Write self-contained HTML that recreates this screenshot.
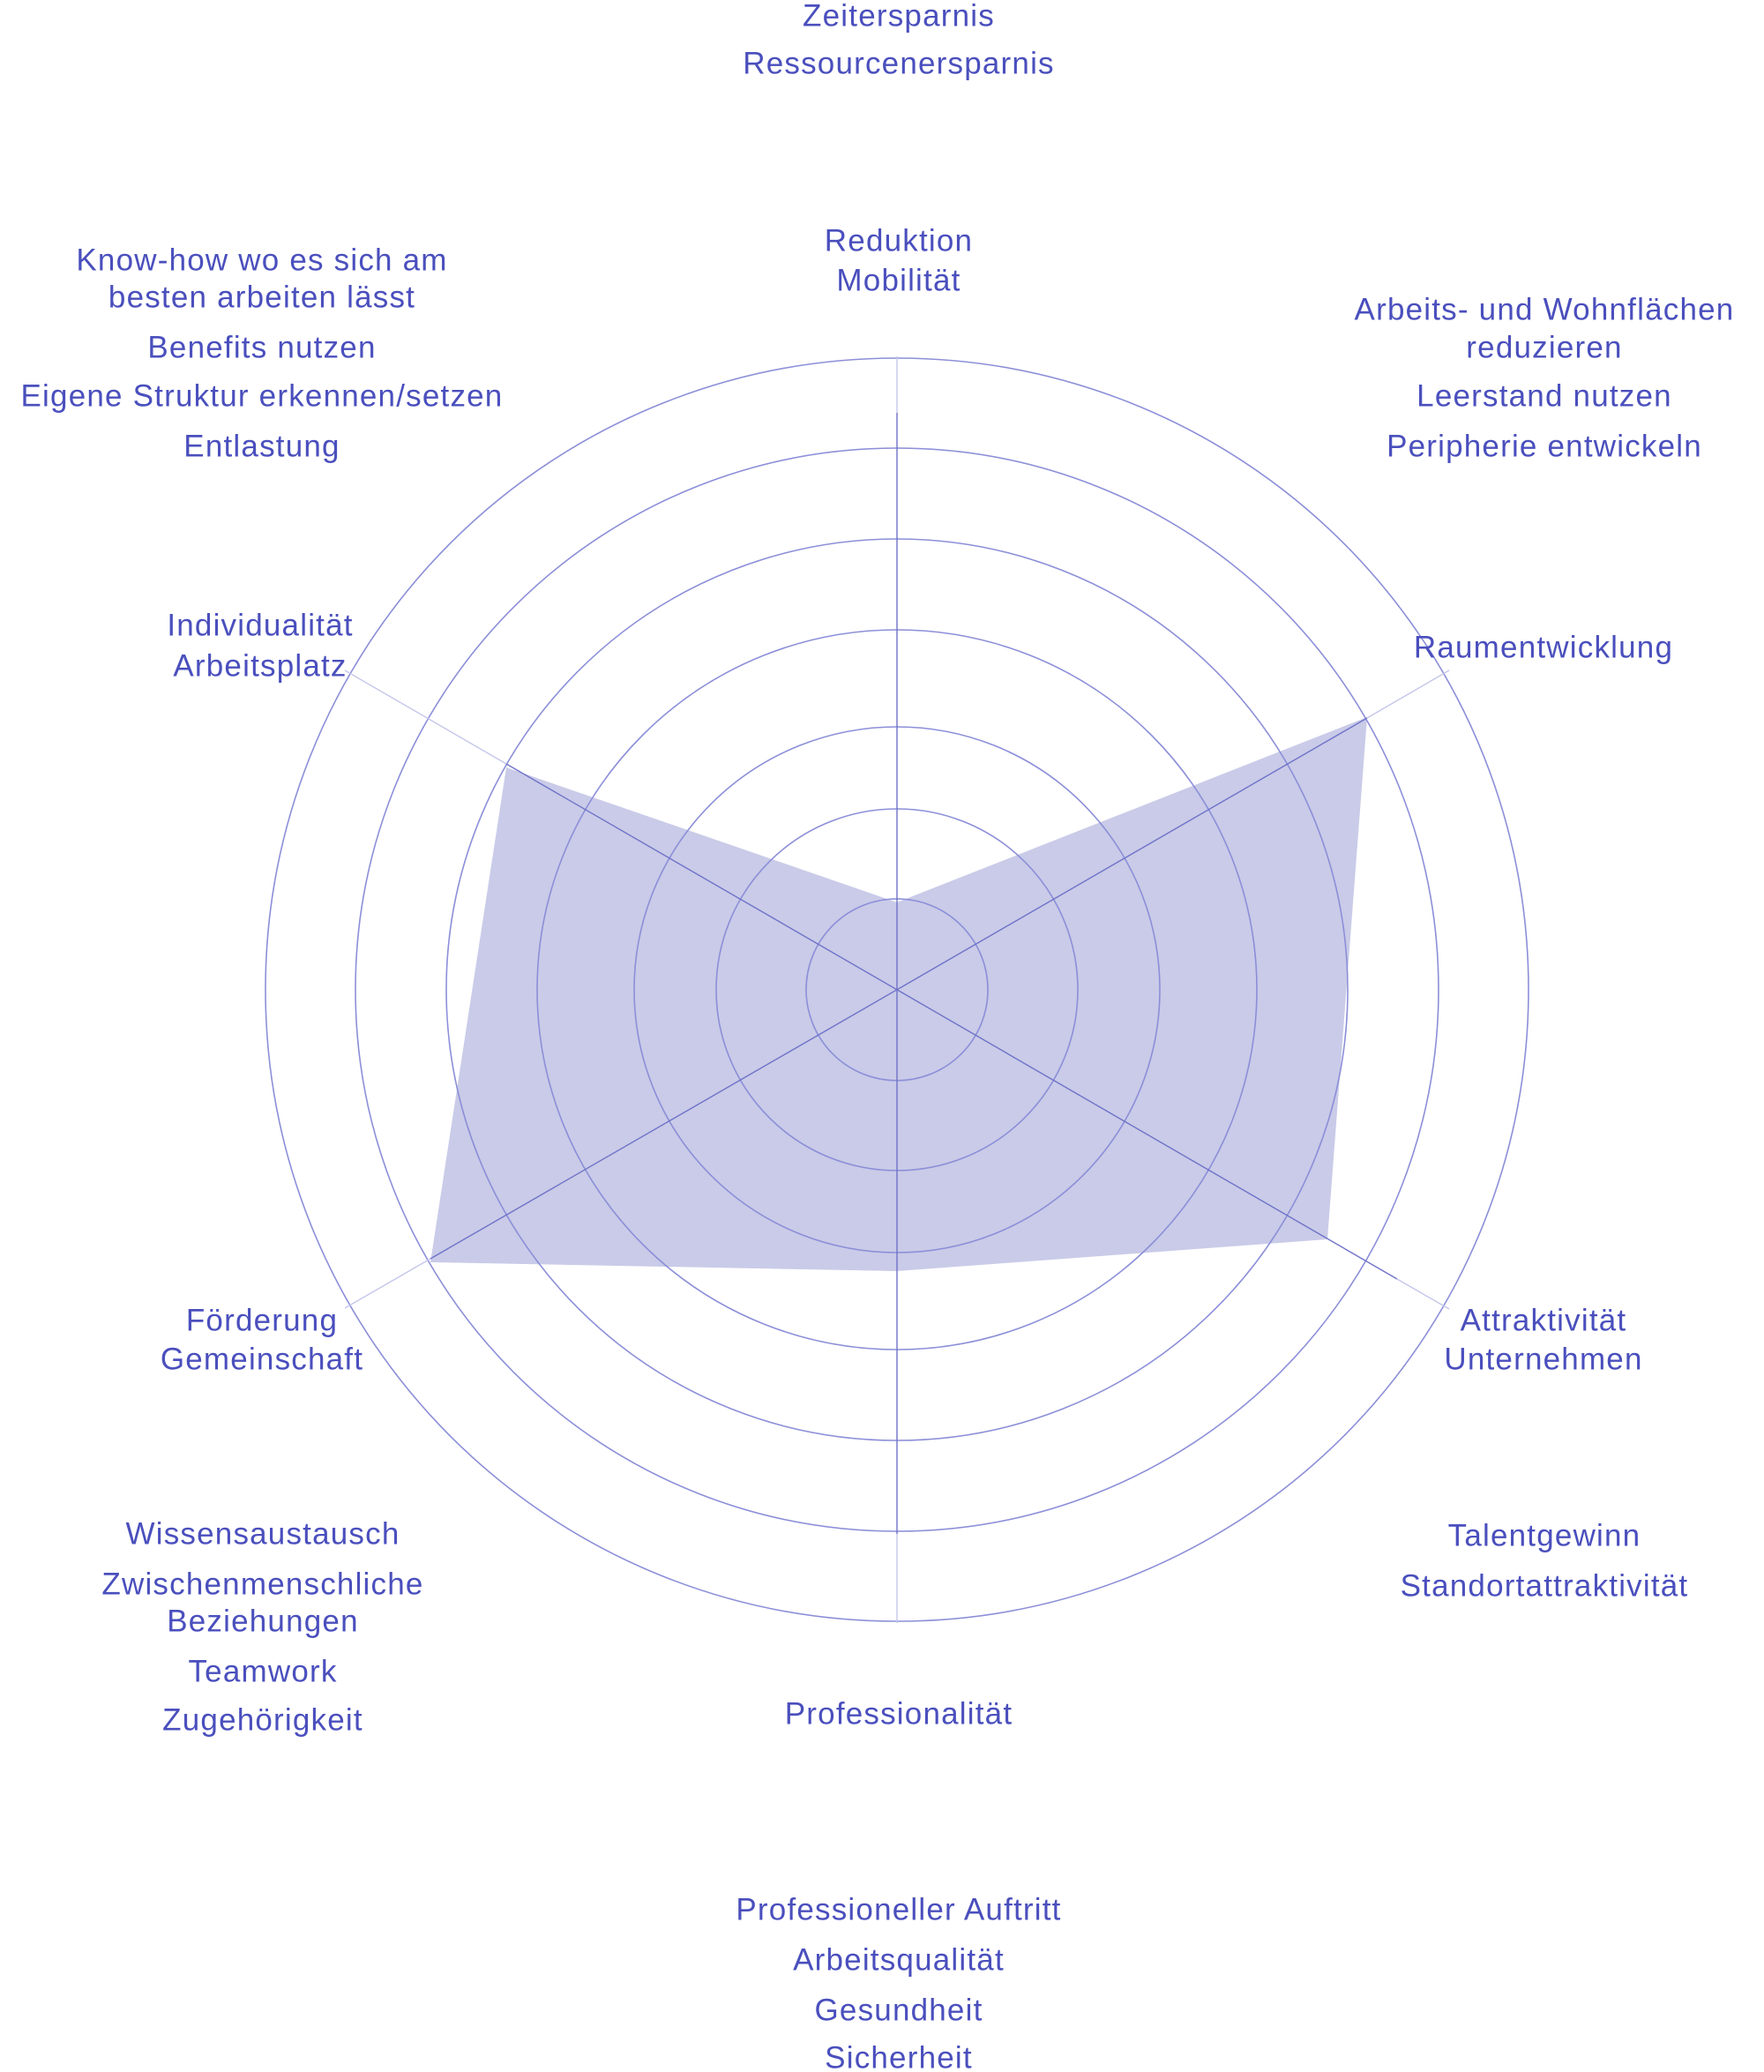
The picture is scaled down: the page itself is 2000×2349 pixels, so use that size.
<!DOCTYPE html>
<html><head><meta charset="utf-8"><style>
html,body{margin:0;padding:0;background:#fff;}
svg{display:block;}
text{font-family:"Liberation Sans",sans-serif;font-size:35px;letter-spacing:1.2px;fill:#4a4fbd;text-anchor:middle;dominant-baseline:central;}
</style></head><body>
<svg width="2000" height="2349" viewBox="0 0 2000 2349" xmlns="http://www.w3.org/2000/svg">
<polygon points="1017,1023 1550,813 1505,1405 1017,1441 488,1431 574,870" fill="#c9cbe8"/>
<g fill="none" stroke="#8c8fd8" stroke-width="1.6">
<circle cx="1017" cy="1122" r="103"/>
<circle cx="1017" cy="1122" r="205"/>
<circle cx="1017" cy="1122" r="298"/>
<circle cx="1017" cy="1122" r="408"/>
<circle cx="1017" cy="1122" r="511"/>
<circle cx="1017" cy="1122" r="614"/>
<circle cx="1017" cy="1122" r="716"/>
</g>
<g stroke="#6f72c8" stroke-width="1.4">
<line x1="1017" y1="1122" x2="1017" y2="468"/>
<line x1="1017" y1="1122" x2="1017" y2="1739"/>
<line x1="1017" y1="1122" x2="1550" y2="814"/>
<line x1="1017" y1="1122" x2="1584" y2="1450"/>
<line x1="1017" y1="1122" x2="488" y2="1427"/>
<line x1="1017" y1="1122" x2="574" y2="866"/>
</g>
<g stroke="#c5c7ea" stroke-width="1.4">
<line x1="1017" y1="468" x2="1017" y2="404"/>
<line x1="1017" y1="1739" x2="1017" y2="1840"/>
<line x1="1550" y1="814" x2="1643" y2="760"/>
<line x1="1584" y1="1450" x2="1643" y2="1484"/>
<line x1="488" y1="1427" x2="391" y2="1483"/>
<line x1="574" y1="866" x2="391" y2="760"/>
</g>
<text x="1019" y="18">Zeitersparnis</text>
<text x="1019" y="72">Ressourcenersparnis</text>
<text x="1019" y="273">Reduktion</text>
<text x="1019" y="318">Mobilität</text>
<text x="1751" y="351">Arbeits- und Wohnflächen</text>
<text x="1751" y="394">reduzieren</text>
<text x="1751" y="449">Leerstand nutzen</text>
<text x="1751" y="506">Peripherie entwickeln</text>
<text x="1750" y="734">Raumentwicklung</text>
<text x="1750" y="1497">Attraktivität</text>
<text x="1750" y="1541">Unternehmen</text>
<text x="1751" y="1741">Talentgewinn</text>
<text x="1751" y="1798">Standortattraktivität</text>
<text x="1019" y="1943">Professionalität</text>
<text x="1019" y="2165">Professioneller Auftritt</text>
<text x="1019" y="2222">Arbeitsqualität</text>
<text x="1019" y="2279">Gesundheit</text>
<text x="1019" y="2333">Sicherheit</text>
<text x="298" y="1739">Wissensaustausch</text>
<text x="298" y="1796">Zwischenmenschliche</text>
<text x="298" y="1838">Beziehungen</text>
<text x="298" y="1895">Teamwork</text>
<text x="298" y="1950">Zugehörigkeit</text>
<text x="297" y="1497">Förderung</text>
<text x="297" y="1541">Gemeinschaft</text>
<text x="295" y="709">Individualität</text>
<text x="295" y="755">Arbeitsplatz</text>
<text x="297" y="295">Know-how wo es sich am</text>
<text x="297" y="337">besten arbeiten lässt</text>
<text x="297" y="394">Benefits nutzen</text>
<text x="297" y="449">Eigene Struktur erkennen/setzen</text>
<text x="297" y="506">Entlastung</text>
</svg>
</body></html>
